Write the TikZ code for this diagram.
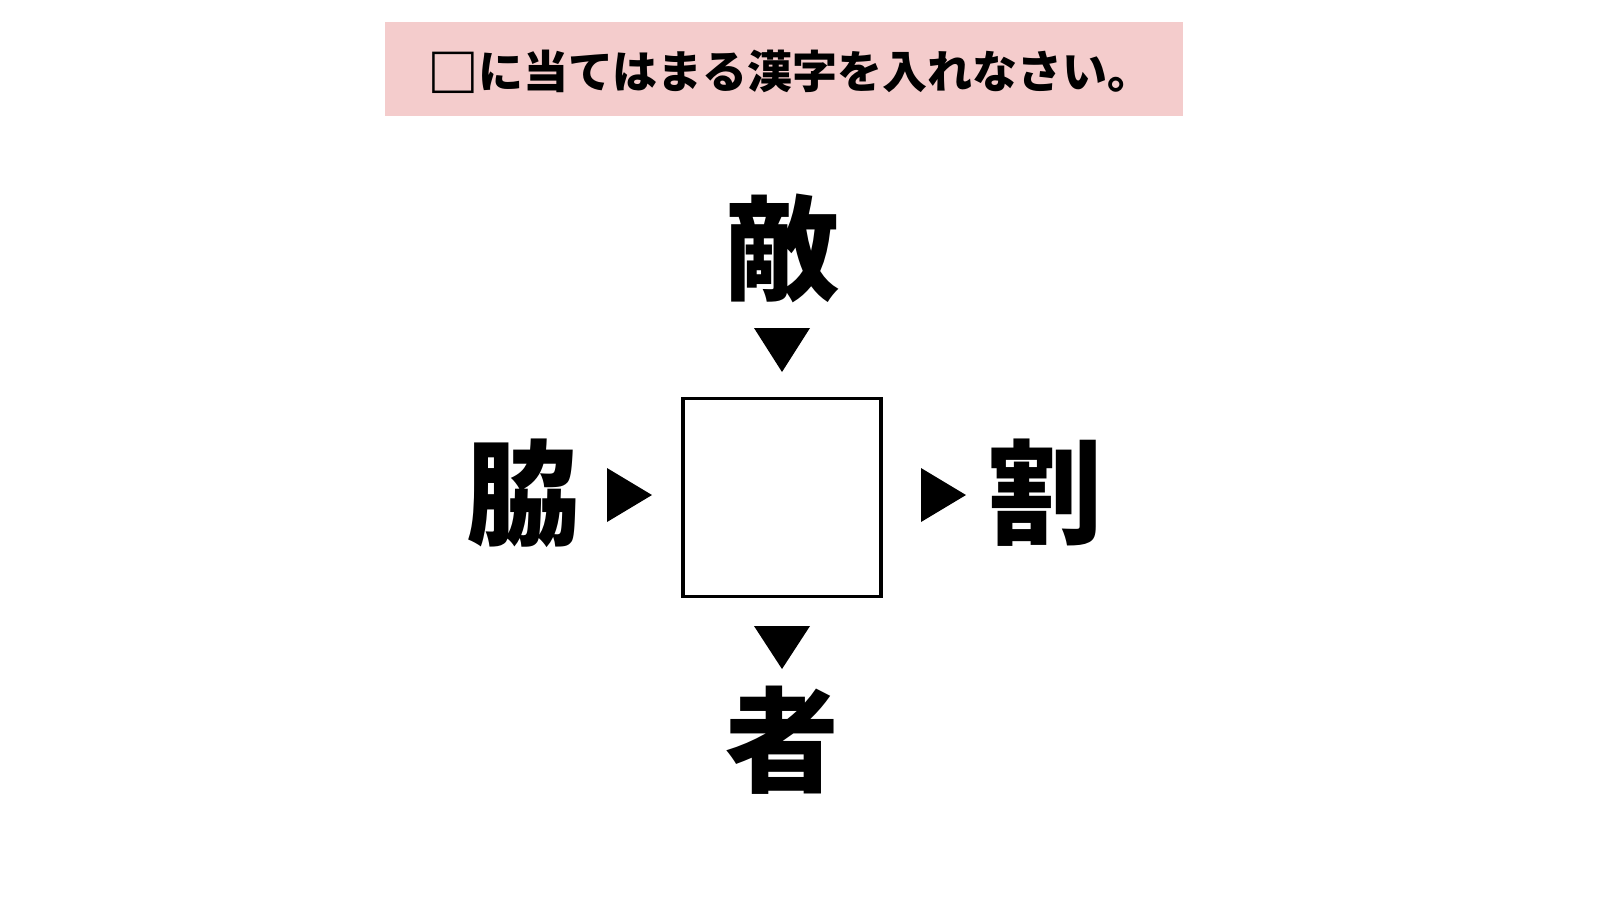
\documentclass[tikz,border=0pt]{standalone}
\usepackage{fontspec}
\newfontfamily\cjk{Noto Sans CJK JP}
\definecolor{pinkbg}{HTML}{F4CCCC}
\tikzset{big/.style={font=\cjk\bfseries\fontsize{57}{60}\selectfont, inner sep=0pt},
tri/.style={fill=black}}
\begin{document}
\begin{tikzpicture}[x=0.5pt,y=-0.5pt]
\useasboundingbox (0,0) rectangle (1600,900);
\fill[pinkbg] (385,22) rectangle (1183,116);
\node[font=\cjk\bfseries\fontsize{22.5}{26}\selectfont, inner sep=0pt] (title) at (790,72) {\raisebox{-0.1em}{\scalebox{1.15}{□}}に当てはまる漢字を入れなさい。};
\node[draw, line width=1.7pt, minimum size=99pt, inner sep=0pt] (box) at (782,497.5) {};
\node[big] (top) at (782,248) {敵};
\node[big] (left) at (523,493) {脇};
\node[big] (right) at (1045,493) {割};
\node[big] (bot) at (782,740) {者};
\fill[tri] (754,328) -- (810,328) -- (782,372) -- cycle;
\fill[tri] (754,626) -- (810,626) -- (782,669) -- cycle;
\fill[tri] (607,468) -- (607,522) -- (652,495) -- cycle;
\fill[tri] (921,468) -- (921,522) -- (966,495) -- cycle;
\end{tikzpicture}
\end{document}
